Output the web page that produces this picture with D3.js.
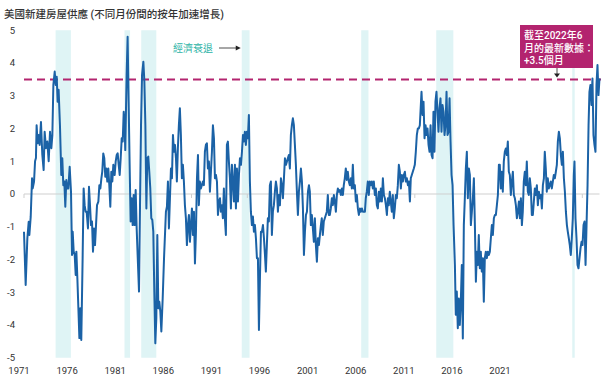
<!DOCTYPE html>
<html lang="zh-Hant">
<head>
<meta charset="UTF-8" />
<title>美國新建房屋供應</title>
<script src="https://d3js.org/d3.v7.min.js"></script>
<style>
  html, body { margin: 0; padding: 0; background: #fff; }
  svg { display: block; font-family: Roboto, 'Noto Sans CJK TC', sans-serif; }
</style>
</head>
<body>
<div id="chart"></div>
<script>
// x-axis labels (drawn evenly, as in the source chart)
const yearLabels = ['1971', '1976', '1981', '1986', '1991', '1996', '2001', '2006', '2011', '2016', '2021'];
const yTicks = [-5, -4, -3, -2, -1, 0, 1, 2, 3, 4, 5];
const zeroTicks = [1971, 1986, 1991, 2006, 2021];
const latestValue = 3.5;

// recessions [start, end] in decimal years
const recessions = [
  [1973.83, 1975.2], [1980.0, 1980.5], [1981.5, 1982.85], [1990.5, 1991.2],
  [2001.2, 2001.85], [2007.92, 2009.45], [2020.1, 2020.32]
];

// months of supply, yoy acceleration: [decimal year, value]
const supply = [
  [1971.00,-1.15],[1971.15,-2.78],[1971.30,-1.35],[1971.42,-0.85],[1971.48,-1.25],[1971.60,-0.70],[1971.72,0.48],[1971.78,0.17],[1971.90,0.38],[1971.99,1.00],
  [1972.07,1.10],[1972.13,2.10],[1972.22,1.55],[1972.31,1.80],[1972.40,1.50],[1972.52,2.20],[1972.64,1.20],[1972.76,0.73],[1972.85,1.90],[1972.97,1.40],
  [1973.09,1.60],[1973.21,1.00],[1973.33,1.90],[1973.45,1.40],[1973.54,1.80],[1973.63,3.33],[1973.75,3.74],[1973.84,3.33],[1973.93,3.58],[1974.01,2.82],
  [1974.10,3.18],[1974.22,2.10],[1974.34,0.58],[1974.43,1.09],[1974.52,0.27],[1974.61,0.38],[1974.70,-0.39],[1974.79,0.43],[1974.88,0.17],[1974.97,0.17],
  [1975.09,0.83],[1975.21,0.07],[1975.30,-1.86],[1975.36,-1.15],[1975.45,-1.76],[1975.54,-1.86],[1975.63,-2.47],[1975.69,-1.76],[1975.78,-2.58],[1975.87,-3.49],
  [1975.96,-4.40],[1976.04,-3.49],[1976.13,-4.46],[1976.25,-1.96],[1976.34,0.17],[1976.43,-0.34],[1976.52,-0.54],[1976.61,-0.54],[1976.73,-1.05],[1976.82,0.22],
  [1976.91,-0.34],[1977.00,-0.95],[1977.09,-0.84],[1977.18,-1.76],[1977.27,-1.05],[1977.36,-1.56],[1977.45,-0.95],[1977.54,-0.34],[1977.66,-0.23],[1977.75,0.27],
  [1977.84,0.17],[1977.93,0.48],[1978.01,0.68],[1978.10,1.24],[1978.19,1.09],[1978.28,0.53],[1978.37,0.78],[1978.46,0.38],[1978.55,0.78],[1978.64,0.27],
  [1978.73,-0.39],[1978.82,0.68],[1978.91,0.38],[1979.00,0.89],[1979.12,0.58],[1979.21,0.99],[1979.30,1.19],[1979.39,1.24],[1979.48,0.89],[1979.57,0.58],
  [1979.66,1.09],[1979.75,1.70],[1979.84,1.60],[1979.93,2.51],[1980.01,2.10],[1980.07,1.34],[1980.13,2.51],[1980.19,3.63],[1980.28,4.80],[1980.37,2.82],
  [1980.46,0.89],[1980.55,-0.84],[1980.64,-0.13],[1980.73,-0.95],[1980.82,-0.03],[1980.91,-0.95],[1981.00,0.12],[1981.09,-1.05],[1981.21,-2.17],[1981.30,-2.98],
  [1981.39,-0.34],[1981.48,2.10],[1981.57,3.63],[1981.69,4.04],[1981.78,3.43],[1981.87,2.10],[1981.96,-0.44],[1982.04,1.09],[1982.13,1.14],[1982.22,0.68],
  [1982.31,0.17],[1982.40,-0.74],[1982.49,-0.79],[1982.58,-1.15],[1982.67,-2.98],[1982.76,-4.56],[1982.85,-3.80],[1982.94,-1.25],[1983.03,-3.49],[1983.12,-3.29],
  [1983.21,-3.59],[1983.30,-4.20],[1983.42,-3.19],[1983.54,-1.96],
  [1983.71,-0.54],[1983.80,-0.39],[1983.89,0.38],[1983.98,-1.05],[1984.07,-0.13],[1984.16,0.78],[1984.25,0.48],[1984.34,1.80],[1984.43,1.29],[1984.52,1.50],
  [1984.61,1.09],[1984.69,0.38],[1984.78,1.39],[1984.87,2.10],[1984.96,2.62],[1985.05,1.80],[1985.14,0.48],[1985.23,0.89],[1985.32,0.38],[1985.41,-0.34],
  [1985.50,-0.74],[1985.59,-1.56],[1985.68,-0.95],[1985.77,-0.64],[1985.86,-1.46],[1985.95,-0.95],[1986.04,-0.44],[1986.13,-1.25],[1986.22,-0.54],[1986.31,-2.12],
  [1986.40,-1.15],[1986.49,0.48],[1986.58,1.19],[1986.66,-0.34],[1986.75,0.38],[1986.84,0.17],[1986.93,0.27],[1987.02,0.38],[1987.11,0.27],[1987.20,1.29],
  [1987.29,1.50],[1987.38,1.55],[1987.47,0.78],[1987.56,0.99],[1987.65,0.07],[1987.74,0.68],[1987.83,1.29],[1987.92,2.10],[1988.01,1.70],[1988.10,0.48],
  [1988.19,0.58],[1988.28,0.38],[1988.37,-0.64],[1988.46,-0.23],[1988.55,-0.13],[1988.63,-0.54],[1988.72,-0.34],[1988.81,-0.74],[1988.90,0.17],[1988.99,-0.74],
  [1989.08,-1.25],[1989.17,1.50],[1989.26,1.60],[1989.35,0.99],[1989.44,0.48],[1989.53,-0.44],[1989.62,0.89],[1989.71,0.38],[1989.80,-0.23],[1989.89,0.89],
  [1989.98,-0.44],[1990.07,0.78],[1990.16,-0.23],[1990.25,0.58],[1990.34,1.09],[1990.43,0.89],[1990.52,1.29],[1990.61,1.80],[1990.69,1.60],[1990.78,1.90],
  [1990.87,1.50],[1990.96,1.90],[1991.05,1.70],[1991.14,2.41],[1991.23,0.38],[1991.32,-0.54],[1991.41,-0.95],[1991.50,-0.69],[1991.59,-1.15],[1991.68,-0.95],
  [1991.77,-1.35],[1991.86,-1.96],[1991.95,-1.96],[1992.04,-4.15],[1992.13,-2.58],[1992.22,-1.15],[1992.31,-1.15],[1992.40,-0.95],[1992.49,-1.35],[1992.58,-1.86],
  [1992.66,-2.37],[1992.75,-1.56],[1992.84,-0.74],[1992.93,-0.84],[1993.02,0.27],[1993.11,0.38],[1993.20,-1.25],[1993.29,-0.54],[1993.38,-0.34],[1993.47,0.07],
  [1993.56,0.38],[1993.65,0.17],[1993.74,-0.54],[1993.83,-0.03],[1993.92,-0.34],[1994.01,0.48],[1994.10,0.27],[1994.19,-0.13],[1994.28,0.48],[1994.37,1.09],
  [1994.46,0.89],[1994.55,0.99],[1994.63,1.09],[1994.72,1.19],[1994.81,0.78],[1994.90,1.80],[1994.99,2.10],[1995.08,2.31],[1995.17,2.10],[1995.26,1.50],
  [1995.35,0.89],[1995.44,0.07],[1995.53,-0.64],[1995.62,0.07],[1995.71,0.38],[1995.80,0.78],[1995.89,0.38],[1995.98,-0.44],[1996.07,-1.86],[1996.16,-1.15],
  [1996.25,-0.64],[1996.34,-0.54],[1996.43,0.07],[1996.52,0.27],
  [1996.60,0.07],[1996.69,-0.95],[1996.78,-0.64],[1996.87,-1.05],[1996.96,-1.46],[1997.05,-0.74],[1997.14,-1.56],[1997.23,-2.07],[1997.32,-1.35],[1997.41,-1.56],
  [1997.50,-1.25],[1997.59,-0.95],[1997.67,-0.74],[1997.76,-1.25],[1997.85,-0.84],[1997.94,-0.74],[1998.03,-0.64],[1998.12,-0.54],[1998.21,-0.03],[1998.30,-0.64],
  [1998.39,-0.64],[1998.48,-0.44],[1998.57,-0.13],[1998.66,-0.34],[1998.75,-0.03],[1998.84,-0.23],[1998.93,-0.54],[1999.02,-0.03],[1999.11,0.17],[1999.20,0.07],
  [1999.29,0.12],[1999.38,-0.03],[1999.47,0.17],[1999.56,-0.03],[1999.64,0.27],[1999.73,0.48],[1999.82,0.78],[1999.91,0.43],[2000.00,0.68],[2000.09,0.38],
  [2000.18,0.27],[2000.27,0.48],[2000.36,0.17],[2000.45,0.89],[2000.54,0.17],[2000.63,0.27],[2000.72,-0.23],[2000.81,-0.03],[2000.90,-0.44],[2000.99,-0.64],
  [2001.08,-0.44],[2001.17,-0.54],[2001.26,-0.44],[2001.35,-0.54],[2001.44,-0.54],[2001.53,-0.54],[2001.61,-0.13],[2001.70,0.07],[2001.79,0.38],[2001.88,-0.03],
  [2001.97,0.38],[2002.06,0.27],[2002.15,0.38],[2002.24,0.17],[2002.33,0.38],[2002.42,-0.03],[2002.51,0.17],[2002.60,-0.34],[2002.69,-0.44],[2002.78,0.07],
  [2002.87,-0.23],[2002.96,0.17],[2003.05,-0.23],[2003.14,0.48],[2003.23,-0.03],[2003.32,-0.13],[2003.41,-0.34],[2003.50,-0.64],[2003.59,-0.13],[2003.67,-0.34],
  [2003.76,0.07],[2003.85,-0.23],[2003.94,-0.54],[2004.03,-0.03],[2004.12,-0.74],[2004.21,-0.44],[2004.30,-0.03],[2004.39,-0.13],[2004.48,0.27],[2004.57,0.89],
  [2004.66,0.68],[2004.75,0.17],[2004.84,0.58],[2004.93,0.38],[2005.02,0.58],[2005.11,0.68],[2005.20,0.38],[2005.29,0.48],[2005.38,0.27],[2005.47,0.38],
  [2005.56,-0.23],[2005.64,0.48],[2005.73,0.58],[2005.82,0.68],[2005.91,0.78],[2006.00,0.89],[2006.09,1.29],[2006.18,1.80],[2006.27,2.00],[2006.36,2.00],
  [2006.45,2.10],[2006.54,2.72],[2006.60,3.12],[2006.69,2.41],[2006.78,2.82],[2006.87,1.70],[2006.96,2.10],[2007.05,1.80],[2007.14,2.00],[2007.23,1.50],
  [2007.32,1.29],[2007.41,2.10],[2007.50,1.19],[2007.59,1.09],[2007.67,2.51],[2007.76,1.29],[2007.85,2.82],[2007.94,3.12],[2008.03,2.51],[2008.12,1.90],
  [2008.21,2.62],[2008.30,2.92],[2008.39,1.90],[2008.48,2.72],[2008.57,2.51],[2008.66,1.80],[2008.75,2.10],[2008.84,3.12],[2008.93,1.80],[2009.02,1.90],
  [2009.11,2.92],[2009.20,1.60],[2009.29,0.58],[2009.38,0.27],[2009.47,-0.95],
  [2009.59,-2.17],[2009.67,-3.69],[2009.76,-2.98],[2009.85,-4.10],[2009.94,-3.19],[2010.03,-4.00],[2010.12,-3.29],[2010.21,-2.17],[2010.30,-4.41],[2010.39,-0.95],
  [2010.48,-0.13],[2010.57,0.78],[2010.66,1.29],[2010.75,-0.13],[2010.84,0.78],[2010.93,0.58],[2011.02,-0.95],[2011.11,-0.54],[2011.20,-0.13],[2011.29,0.48],
  [2011.38,-0.95],[2011.47,-2.68],[2011.56,-1.76],[2011.64,-2.17],[2011.73,-1.25],[2011.82,-2.27],[2011.91,-1.76],[2012.00,-2.37],[2012.09,-1.96],[2012.18,-3.29],
  [2012.27,-1.96],[2012.36,-1.76],[2012.45,-1.96],[2012.54,-1.76],[2012.63,-1.86],[2012.72,-1.76],[2012.81,-1.35],[2012.90,-0.95],[2012.99,-1.25],[2013.08,-0.74],
  [2013.17,-0.64],[2013.26,-0.64],[2013.35,-0.34],[2013.44,-0.03],[2013.53,0.89],[2013.61,0.89],[2013.70,0.17],[2013.79,0.68],[2013.88,0.07],[2013.97,0.99],
  [2014.06,1.29],[2014.15,1.39],[2014.24,1.19],[2014.33,1.60],[2014.42,0.68],[2014.51,0.58],[2014.60,-0.03],[2014.69,0.38],[2014.78,0.68],[2014.87,-0.03],
  [2014.96,-0.13],[2015.05,-0.34],[2015.14,-0.74],[2015.23,-0.54],[2015.32,-0.23],[2015.41,-0.74],[2015.50,-0.13],[2015.59,-0.95],[2015.67,-0.54],[2015.76,0.38],
  [2015.85,0.68],[2015.94,0.27],[2016.03,0.99],[2016.12,0.07],[2016.21,-0.03],[2016.30,0.48],[2016.39,0.17],[2016.48,-0.64],[2016.57,-0.64],[2016.66,-0.23],
  [2016.75,0.17],[2016.84,-0.03],[2016.93,0.27],[2017.02,-0.34],[2017.11,0.07],[2017.20,-0.13],[2017.29,-0.03],[2017.38,-0.44],[2017.47,0.27],[2017.56,0.48],
  [2017.64,1.29],[2017.73,0.78],[2017.82,0.07],[2017.91,0.48],[2018.00,0.17],[2018.09,0.27],[2018.18,0.38],[2018.27,0.17],[2018.36,0.38],[2018.45,0.58],
  [2018.54,0.48],[2018.63,0.68],[2018.72,0.89],[2018.81,1.60],[2018.90,1.90],[2018.99,1.70],[2019.08,1.19],[2019.17,0.89],[2019.26,1.29],[2019.35,0.48],
  [2019.44,0.07],[2019.53,-0.54],[2019.62,-0.95],[2019.70,-1.15],[2019.79,-1.35],[2019.88,-1.56],[2019.97,-1.86],[2020.06,-1.35],[2020.15,-0.74],[2020.24,0.58],
  [2020.30,0.99],[2020.39,-0.74],[2020.48,-1.35],[2020.57,-2.17],[2020.66,-2.27],[2020.75,-1.96],[2020.84,-1.66],[2020.93,-1.46],[2021.02,-1.56],[2021.11,-0.95],
  [2021.20,-0.84],[2021.29,-2.17],[2021.38,-0.95],[2021.47,0.27],[2021.56,2.10],[2021.64,3.12],[2021.73,3.33],[2021.82,2.72],[2021.91,3.53],[2022.00,1.80],
  [2022.09,1.50],[2022.18,1.29],[2022.27,3.33],[2022.36,3.94],[2022.45,3.02],[2022.54,3.53]
];

const width = 608, height = 380;
const blue = '#1b62a6', magenta = '#b3246f', teal = '#2bb3a6', band = '#dff4f5';

const svg = d3.select('#chart').append('svg')
  .attr('width', width)
  .attr('height', height);

const x = d3.scaleLinear().domain([1971, 2022.54]).range([24, 599.5]);
const y = d3.scaleLinear().domain([-5, 5]).range([357.75, 30.25]);
const xLabel = d3.scalePoint().domain(yearLabels).range([19, 500]);

// title
svg.append('text')
  .attr('x', 4)
  .attr('y', 18)
  .attr('fill', '#333')
  .style('font-size', '10.5px')
  .style('font-weight', 500)
  .text('美國新建房屋供應 (不同月份間的按年加速增長)');

// recession bands
svg.append('g')
  .selectAll('rect')
  .data(recessions)
  .join('rect')
  .attr('x', d => x(d[0]))
  .attr('width', d => x(d[1]) - x(d[0]))
  .attr('y', y(5))
  .attr('height', y(-5) - y(5))
  .attr('fill', band);

// zero line
svg.append('line')
  .attr('x1', x(1971)).attr('x2', x(2022.54))
  .attr('y1', y(0)).attr('y2', y(0))
  .attr('stroke', '#cfcfcf')
  .attr('stroke-width', 1);

svg.append('g')
  .selectAll('line')
  .data(zeroTicks)
  .join('line')
  .attr('x1', d => x(d)).attr('x2', d => x(d))
  .attr('y1', y(0)).attr('y2', y(0) + 4)
  .attr('stroke', '#cfcfcf');

// y labels
svg.append('g')
  .selectAll('text')
  .data(yTicks)
  .join('text')
  .attr('x', 15)
  .attr('y', d => y(d))
  .attr('dy', '0.35em')
  .attr('text-anchor', 'end')
  .attr('fill', '#333')
  .style('font-size', '9.5px')
  .text(d => d);

// x labels
svg.append('g')
  .selectAll('text')
  .data(yearLabels)
  .join('text')
  .attr('x', d => xLabel(d))
  .attr('y', 374)
  .attr('text-anchor', 'middle')
  .attr('fill', '#333')
  .style('font-size', '9.5px')
  .text(d => d);

// latest level reference
svg.append('line')
  .attr('x1', x(1971)).attr('x2', 601)
  .attr('y1', y(latestValue)).attr('y2', y(latestValue))
  .attr('stroke', magenta)
  .attr('stroke-width', 2)
  .attr('stroke-dasharray', '8,5');

// series
const line = d3.line()
  .x(d => x(d[0]))
  .y(d => y(d[1]));

svg.append('path')
  .datum(supply)
  .attr('fill', 'none')
  .attr('stroke', blue)
  .attr('stroke-width', 2)
  .attr('stroke-linejoin', 'round')
  .attr('d', line);

// recession label
const tip = x(recessions[3][0]) - 1;
svg.append('text')
  .attr('x', 173)
  .attr('y', 51.5)
  .attr('fill', teal)
  .style('font-size', '10px')
  .text('經濟衰退');
svg.append('line')
  .attr('x1', 219).attr('x2', tip - 4)
  .attr('y1', 48).attr('y2', 48)
  .attr('stroke', '#222')
  .attr('stroke-width', 0.8);
svg.append('path')
  .attr('d', `M${tip},48 L${tip - 5},45.5 L${tip - 5},50.5 Z`)
  .attr('fill', '#222');

// latest data callout
const box = svg.append('g').attr('transform', 'translate(520,25)');
box.append('rect')
  .attr('width', 73)
  .attr('height', 43)
  .attr('fill', magenta);
['截至2022年6', '月的最新數據：', '+3.5個月'].forEach((t, i) => {
  box.append('text')
    .attr('x', 4)
    .attr('y', 14 + i * 12.5)
    .attr('fill', '#fff')
    .style('font-size', '10px')
    .style('font-weight', 500)
    .text(t);
});
const ax = 557, ay = y(latestValue) - 2;
svg.append('line')
  .attr('x1', ax).attr('x2', ax)
  .attr('y1', 68).attr('y2', ay - 3)
  .attr('stroke', '#222')
  .attr('stroke-width', 0.8);
svg.append('path')
  .attr('d', `M${ax},${ay} L${ax - 3},${ay - 4} L${ax + 3},${ay - 4} Z`)
  .attr('fill', '#222');
</script>
</body>
</html>
